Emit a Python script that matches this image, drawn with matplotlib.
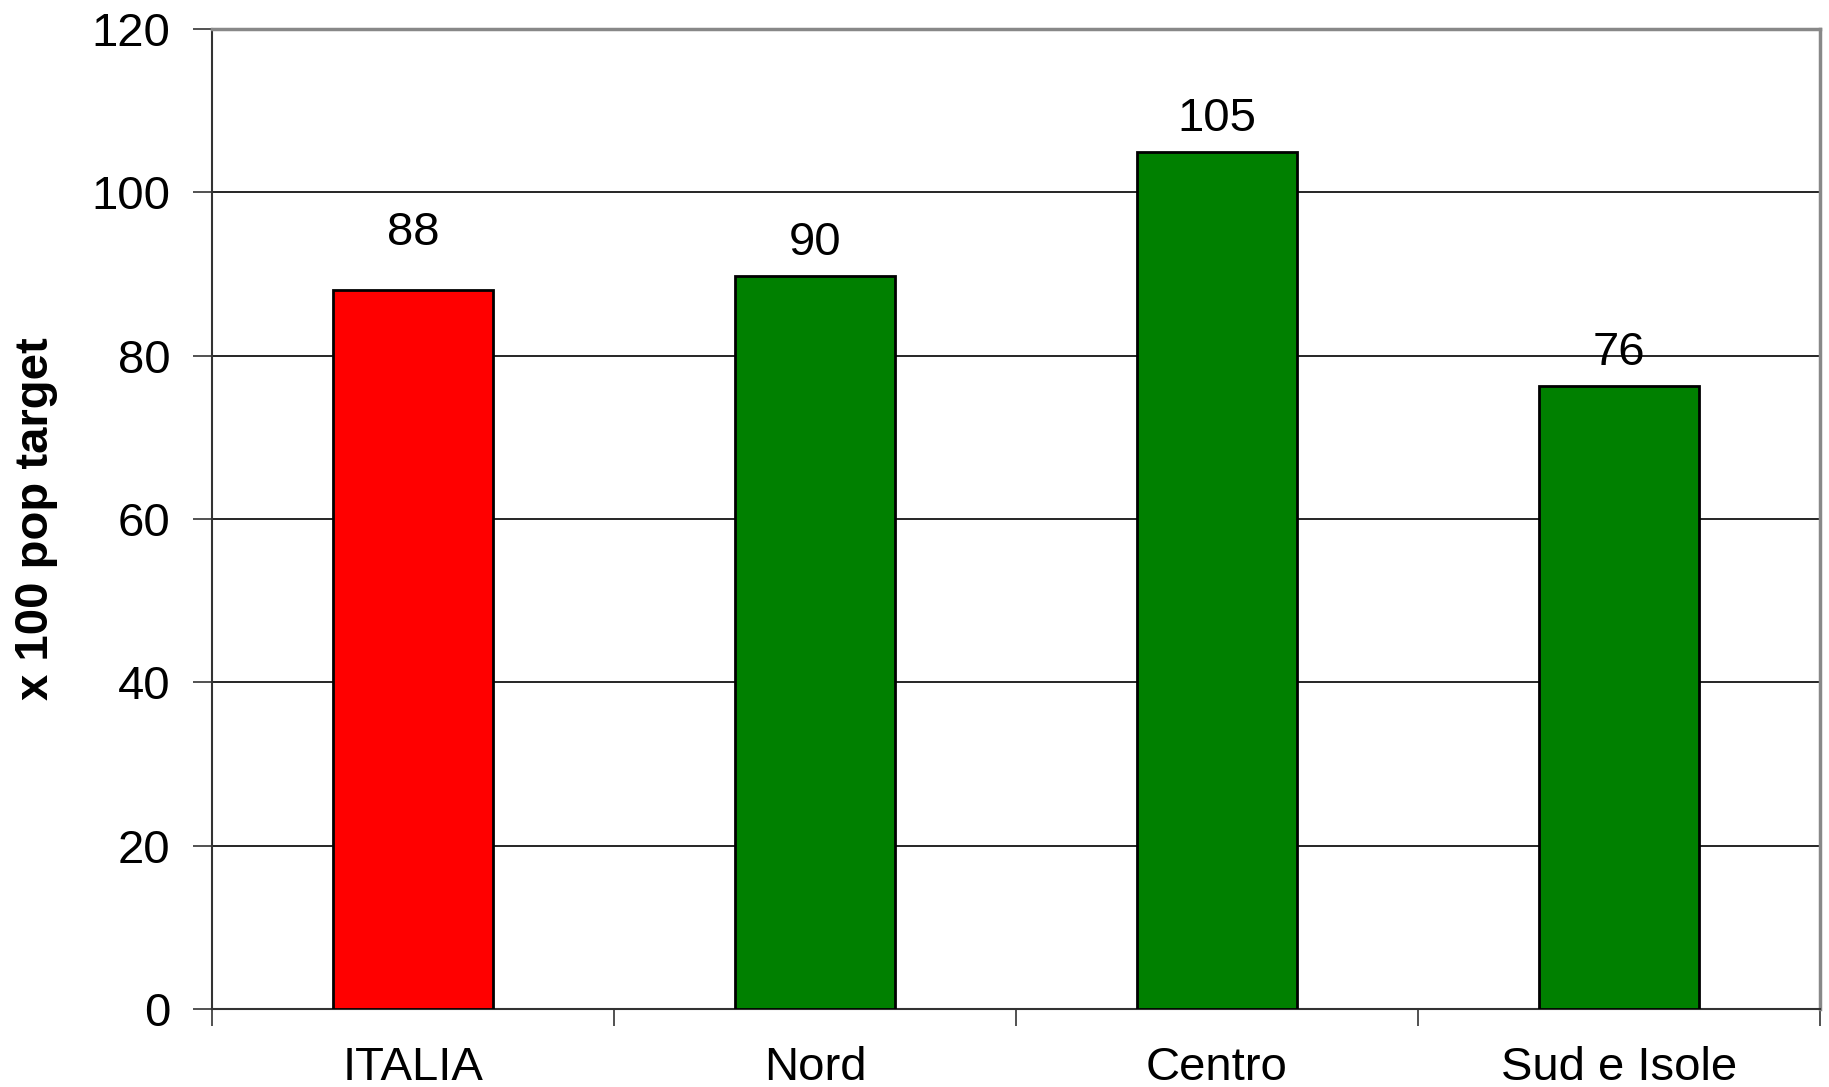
import matplotlib.pyplot as plt
import numpy as np

regions = ["ITALIA", "Nord", "Centro", "Sud e Isole"]
values = [88.1, 89.7, 104.9, 76.3]
bar_colors = ["#FF0000", "#008000", "#008000", "#008000"]
label_gap = [25, 8, 8, 8]  # points above bar top

plt.rcParams["font.family"] = ["Liberation Sans", "DejaVu Sans"]

fig = plt.figure(figsize=(18.29, 10.87), dpi=100)
ax = fig.add_axes([212 / 1829, 78 / 1087, 1608 / 1829, 980 / 1087])

x = np.arange(len(regions))
bars = ax.bar(x, values, width=0.4, color=bar_colors, edgecolor="black",
              linewidth=2.0, zorder=3)

for rect, v, gap in zip(bars, values, label_gap):
    ax.annotate(f"{v:.0f}", (rect.get_x() + rect.get_width() / 2, v),
                xytext=(0, gap), textcoords="offset points",
                ha="center", va="bottom", fontsize=34)

ax.set_xlim(-0.5, len(regions) - 0.5)
ax.set_ylim(0, 120)
ax.set_yticks(np.arange(0, 121, 20))
ax.yaxis.grid(True, color="black", linewidth=1.2, zorder=0)
ax.set_axisbelow(True)

# category boundaries get tick marks, names sit between them
ax.set_xticks(np.arange(-0.5, len(regions)), minor=False)
ax.set_xticklabels([])
ax.set_xticks(x, minor=True)
ax.set_xticklabels(regions, minor=True)
ax.tick_params(axis="x", which="major", length=12, width=1.2, color="#333333")
ax.tick_params(axis="x", which="minor", length=0, labelsize=34, pad=27)
ax.tick_params(axis="y", length=14, width=1.2, color="#333333", labelsize=34, pad=16)

ax.spines["left"].set_color("#333333")
ax.spines["left"].set_linewidth(1.5)
ax.spines["bottom"].set_color("#333333")
ax.spines["bottom"].set_linewidth(1.5)
for side in ["top", "right"]:
    ax.spines[side].set_color("#888888")
    ax.spines[side].set_linewidth(2.5)

ax.set_ylabel("x 100 pop target", fontsize=34, fontweight="bold", labelpad=24)

fig.savefig("out.png", dpi=100)
